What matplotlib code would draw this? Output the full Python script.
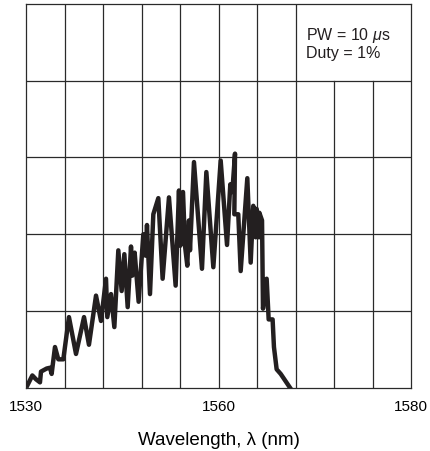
import numpy as np
import matplotlib
matplotlib.use("Agg")
import matplotlib.pyplot as plt

plt.rcParams['font.family'] = ['Liberation Sans', 'DejaVu Sans']
plt.rcParams['mathtext.fontset'] = 'custom'
plt.rcParams['mathtext.it'] = 'Liberation Sans:italic'
plt.rcParams['mathtext.rm'] = 'Liberation Sans'

# Spectrum (wavelength in nm, relative power in grid divisions)
wavelength = [1530.16, 1530.94, 1531.51, 1532.13, 1532.29, 1533.17, 1533.69, 1533.95,
              1534.47, 1534.99, 1535.77, 1536.65, 1537.75, 1539.00, 1539.77, 1540.87,
              1541.65, 1542.43, 1542.63, 1543.21, 1543.73, 1544.35, 1544.87, 1545.29,
              1545.81, 1546.33, 1546.53, 1546.90, 1547.52, 1548.25, 1548.61, 1548.82,
              1549.29, 1549.81, 1550.59, 1551.26, 1552.25, 1553.29, 1553.81, 1554.02,
              1554.44, 1554.75, 1555.11, 1555.37, 1555.53, 1556.15, 1557.40, 1558.08,
              1559.17, 1560.21, 1560.87, 1561.21, 1561.42, 1561.70, 1561.63, 1562.04,
              1562.29, 1562.98, 1563.33, 1563.60, 1563.85, 1563.95, 1564.19, 1564.23,
              1564.51, 1564.61, 1564.99, 1565.20, 1565.61, 1565.75, 1566.03, 1566.45,
              1566.72, 1567.42]
power = [0.03, 0.16, 0.11, 0.07, 0.21, 0.25, 0.26, 0.18,
         0.53, 0.37, 0.37, 0.92, 0.44, 0.92, 0.56, 1.20,
         0.87, 1.42, 0.92, 1.22, 0.79, 1.79, 1.26, 1.74,
         1.05, 1.84, 1.46, 1.76, 1.12, 2.00, 1.72, 2.12,
         1.22, 2.26, 2.47, 1.42, 2.48, 1.33, 2.57, 1.85,
         2.55, 1.85, 1.59, 2.18, 1.79, 2.94, 1.55, 2.81,
         1.57, 2.96, 1.86, 2.65, 2.55, 3.05, 2.26, 2.26,
         1.52, 2.73, 1.63, 2.37, 1.96, 2.33, 1.96, 2.28,
         2.18, 1.03, 1.42, 0.89, 0.89, 0.53, 0.24, 0.18,
         0.13, 0.00]

tick_values = [1530, 1560, 1580]
tick_labels = ["1530", "1560", "1580"]
grid_x = [1530, 1536, 1542, 1548, 1554, 1560, 1564, 1568, 1572, 1576, 1580]
grid_y = [1, 2, 3, 4]
annotation = "PW = 10 $\\mu$s\nDuty = 1%"


def fwd(x):
    x = np.asarray(x, dtype=float)
    return np.where(x <= 1560, (x - 1530) / 6.0, 5 + (x - 1560) / 4.0)


def inv(g):
    g = np.asarray(g, dtype=float)
    return np.where(g <= 5, 1530 + 6.0 * g, 1560 + 4.0 * (g - 5))


fig = plt.figure(figsize=(4.30, 4.52), dpi=100)
ax = fig.add_axes([0.0612, 0.140, 0.8946, 0.849])
ax.set_xscale('function', functions=(fwd, inv))
ax.set_xlim(1530, 1580)
ax.set_ylim(0, 5)

gc = '#2a2a2a'
for gx in grid_x[1:-1]:
    top = 4 if gx in (1572, 1576) else 5
    ax.plot([gx, gx], [0, top], color=gc, lw=0.9, zorder=1)
for gy in grid_y:
    ax.plot([1530, 1580], [gy, gy], color=gc, lw=0.9, zorder=1)

ax.plot(wavelength, power, color='#231f20', lw=3.2, solid_joinstyle='round', zorder=3)

ax.text(1569.1, 4.73, annotation, fontsize=11.5, va='top', ha='left',
        linespacing=1.15, color='#231f20')

ax.set_xticks(tick_values)
ax.set_xticklabels(tick_labels, fontsize=11)
ax.xaxis.set_minor_locator(matplotlib.ticker.NullLocator())
ax.tick_params(axis='x', length=0, pad=8)
ax.set_yticks([])
for s in ax.spines.values():
    s.set_color(gc)
    s.set_linewidth(0.9)
ax.set_xlabel("Wavelength, λ (nm)", fontsize=13.5, labelpad=13)

fig.savefig("out.png", dpi=100)
